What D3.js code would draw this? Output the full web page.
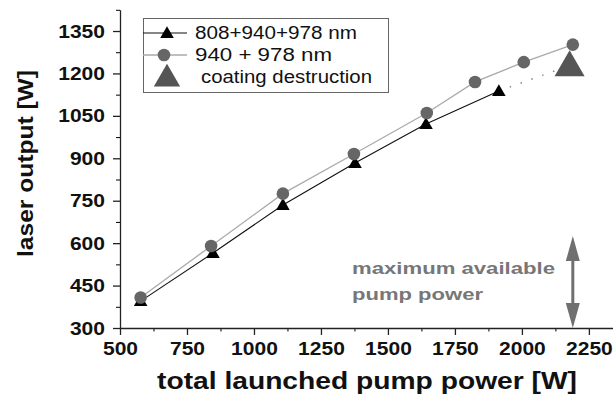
<!DOCTYPE html>
<html>
<head>
<meta charset="utf-8">
<script src="https://cdn.jsdelivr.net/npm/d3@7"></script>
<style>
  body { margin: 0; background: #fff; }
  text { font-family: "Liberation Sans", Arial, sans-serif; }
</style>
</head>
<body>
<div id="root"></div>
<script>
const width = 613;
const height = 395;

// data
const pump3 = [577, 847, 1108, 1377, 1642, 1914];
const out3 = [395, 565, 735, 883, 1021, 1138];
const pump2 = [577, 840, 1108, 1373, 1645, 1825, 2007, 2190];
const out2 = [408, 590, 775, 915, 1060, 1170, 1240, 1302];
const coating = [2178, 1228];
const maxPump = [2190, 625];
const xTicks = [500, 750, 1000, 1250, 1500, 1750, 2000, 2250];
const yTicks = [300, 450, 600, 750, 900, 1050, 1200, 1350];

const svg = d3.select('#root')
  .append('svg')
  .attr('width', width).attr('height', height);

const xScale = d3.scaleLinear().domain([500, 2340]).range([120, 613]);
const yScale = d3.scaleLinear().domain([300, 1425]).range([328, 9.8]);

// minor ticks
const xMinor = d3.range(625, 2340, 250);
const yMinor = d3.range(375, 1426, 150);

svg.append('g')
  .attr('transform', `translate(0, ${yScale(300)})`)
  .call(d3.axisBottom(xScale).tickValues(xMinor).tickSize(3.5).tickFormat(''))
  .call(g => g.select('.domain').remove());
svg.append('g')
  .attr('transform', `translate(${xScale(500)}, 0)`)
  .call(d3.axisLeft(yScale).tickValues(yMinor).tickSize(4).tickFormat(''))
  .call(g => g.select('.domain').remove());

const fmt = d3.format('d');
const xAxis = svg.append('g')
  .attr('transform', `translate(0, ${yScale(300)})`)
  .call(d3.axisBottom(xScale).tickValues(xTicks).tickFormat(fmt).tickSize(7).tickSizeOuter(0).tickPadding(7));
const yAxis = svg.append('g')
  .attr('transform', `translate(${xScale(500)}, 0)`)
  .call(d3.axisLeft(yScale).tickValues(yTicks).tickFormat(fmt).tickSize(7).tickSizeOuter(0).tickPadding(8));

[xAxis, yAxis].forEach(g => {
  g.selectAll('line, path').attr('stroke', '#222').attr('stroke-width', 1.3);
  g.selectAll('text')
    .attr('font-size', 19).attr('font-weight', 'bold').attr('fill', '#111')
    .attr('font-family', '"Liberation Sans", Arial, sans-serif')
    .attr('textLength', d => fmt(d).length * 11.7)
    .attr('lengthAdjust', 'spacingAndGlyphs');
});
xAxis.selectAll('text').attr('dy', '0.71em');

const tri = d3.symbol().type(d3.symbolTriangle);
const line = d3.line().x(d => xScale(d[0])).y(d => yScale(d[1]));

const s3 = pump3.map((p, i) => [p, out3[i]]);
const s2 = pump2.map((p, i) => [p, out2[i]]);

// dotted extension to coating destruction
svg.append('path')
  .attr('d', line([s3[s3.length - 1], coating]))
  .attr('fill', 'none').attr('stroke', '#888').attr('stroke-width', 1.5)
  .attr('stroke-dasharray', '1.5,10');

svg.append('path')
  .attr('d', line(s2))
  .attr('fill', 'none').attr('stroke', '#aaa').attr('stroke-width', 1.3);
svg.append('path')
  .attr('d', line(s3))
  .attr('fill', 'none').attr('stroke', '#111').attr('stroke-width', 1.1);

svg.selectAll('.tri3')
  .data(s3).enter()
  .append('path')
  .attr('class', 'tri3')
  .attr('d', tri.size(80))
  .attr('transform', d => `translate(${xScale(d[0])}, ${yScale(d[1]) + 1})`)
  .attr('fill', '#000');

svg.selectAll('.dot2')
  .data(s2).enter()
  .append('circle')
  .attr('class', 'dot2')
  .attr('cx', d => xScale(d[0]))
  .attr('cy', d => yScale(d[1]))
  .attr('r', 6.3)
  .attr('fill', '#666');

svg.append('path')
  .attr('d', tri.size(390))
  .attr('transform', `translate(${xScale(coating[0])}, ${yScale(coating[1]) + 2})`)
  .attr('fill', '#555');

// arrow for maximum available pump power
const ax = xScale(maxPump[0]);
const aTop = yScale(maxPump[1]);
const aBot = yScale(300);
svg.append('line')
  .attr('x1', ax).attr('x2', ax)
  .attr('y1', aTop + 10).attr('y2', aBot - 10)
  .attr('stroke', '#707070').attr('stroke-width', 3);
svg.append('path')
  .attr('d', `M${ax},${aTop} L${ax - 7},${aTop + 25} L${ax + 7},${aTop + 25} Z`)
  .attr('fill', '#707070');
svg.append('path')
  .attr('d', `M${ax},${aBot} L${ax - 7},${aBot - 25} L${ax + 7},${aBot - 25} Z`)
  .attr('fill', '#707070');

svg.append('text')
  .attr('x', 352).attr('y', 274)
  .attr('font-size', 17).attr('font-weight', 'bold').attr('fill', '#777')
  .attr('textLength', 203).attr('lengthAdjust', 'spacingAndGlyphs')
  .text('maximum available');
svg.append('text')
  .attr('x', 352).attr('y', 300)
  .attr('font-size', 17).attr('font-weight', 'bold').attr('fill', '#777')
  .attr('textLength', 131).attr('lengthAdjust', 'spacingAndGlyphs')
  .text('pump power');

// legend
const legend = svg.append('g');
legend.append('rect')
  .attr('x', 143.5).attr('y', 18.5).attr('width', 245).attr('height', 74)
  .attr('fill', '#fff').attr('stroke', '#666').attr('stroke-width', 1);

const legItems = [
  {label: '808+940+978 nm', len: 162, y: 33},
  {label: '940 + 978 nm', len: 137, y: 55},
  {label: 'coating destruction', len: 171, y: 77}
];
legend.append('line').attr('x1', 143).attr('x2', 187).attr('y1', 33).attr('y2', 33)
  .attr('stroke', '#111').attr('stroke-width', 1.1);
legend.append('path').attr('d', tri.size(80)).attr('transform', 'translate(167, 34)').attr('fill', '#000');
legend.append('line').attr('x1', 143).attr('x2', 187).attr('y1', 55).attr('y2', 55)
  .attr('stroke', '#aaa').attr('stroke-width', 1.3);
legend.append('circle').attr('cx', 164).attr('cy', 55).attr('r', 6.3).attr('fill', '#666');
legend.append('path').attr('d', tri.size(300)).attr('transform', 'translate(167, 79)').attr('fill', '#555');

legend.selectAll('.legtext')
  .data(legItems).enter()
  .append('text')
  .attr('class', 'legtext')
  .attr('x', (d, i) => i === 2 ? 201 : 195)
  .attr('y', d => d.y + 6)
  .attr('font-size', 17.5).attr('fill', '#111')
  .attr('textLength', d => d.len).attr('lengthAdjust', 'spacingAndGlyphs')
  .text(d => d.label);

// axis titles
svg.append('text')
  .attr('x', 157).attr('y', 389)
  .attr('font-size', 24).attr('font-weight', 'bold').attr('fill', '#111')
  .attr('textLength', 420).attr('lengthAdjust', 'spacingAndGlyphs')
  .text('total launched pump power [W]');
svg.append('text')
  .attr('transform', 'translate(33, 257) rotate(-90)')
  .attr('font-size', 22).attr('font-weight', 'bold').attr('fill', '#111')
  .attr('textLength', 187).attr('lengthAdjust', 'spacingAndGlyphs')
  .text('laser output [W]');
</script>
</body>
</html>
